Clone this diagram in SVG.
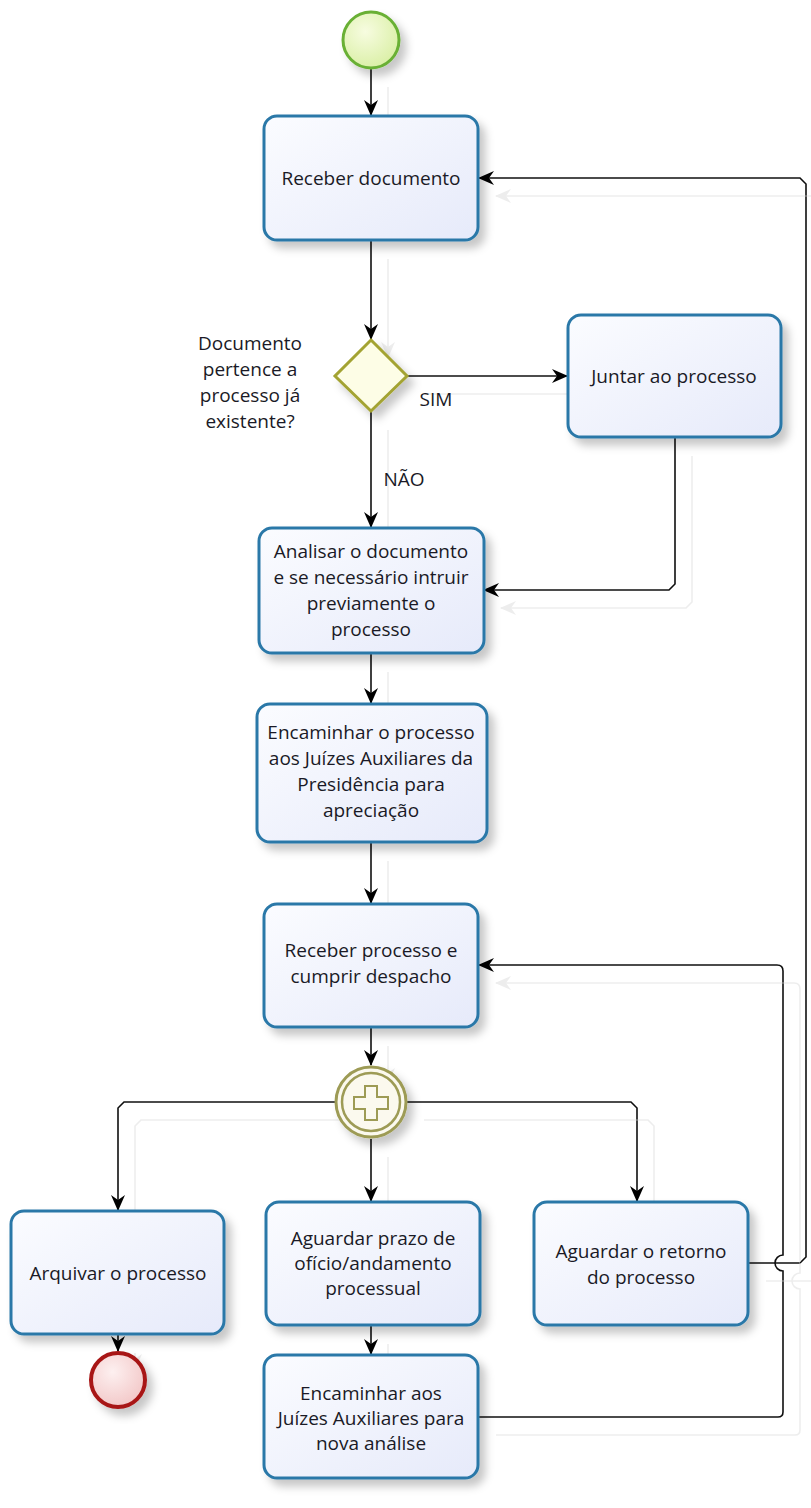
<svg xmlns="http://www.w3.org/2000/svg" width="811" height="1508" viewBox="0 0 811 1508">
<defs>
<linearGradient id="taskFill" x1="0" y1="0" x2="1" y2="1">
<stop offset="0" stop-color="#fbfcff"/>
<stop offset="1" stop-color="#e6eafa"/>
</linearGradient>
<radialGradient id="startFill" cx="0.4" cy="0.35" r="0.7">
<stop offset="0" stop-color="#f7fce0"/>
<stop offset="1" stop-color="#d9efa4"/>
</radialGradient>
<radialGradient id="endFill" cx="0.4" cy="0.35" r="0.7">
<stop offset="0" stop-color="#fdf0f0"/>
<stop offset="1" stop-color="#f2c6c6"/>
</radialGradient>
<filter id="shadow" x="-20%" y="-20%" width="150%" height="150%">
<feDropShadow dx="6" dy="7" stdDeviation="4" flood-color="#000" flood-opacity="0.22"/>
</filter>
<filter id="lineShadow" x="-10%" y="-10%" width="130%" height="130%">
<feOffset in="SourceAlpha" dx="17" dy="18" result="o"/>
<feFlood flood-color="#ededed"/>
<feComposite in2="o" operator="in" result="s"/>
<feMerge><feMergeNode in="s"/><feMergeNode in="SourceGraphic"/></feMerge>
</filter>
<marker id="arrow" viewBox="0 0 16 16" refX="15" refY="8" markerWidth="16" markerHeight="16" markerUnits="userSpaceOnUse" orient="auto">
<path d="M0,1 L16,8 L0,15 L5,8 z" fill="#000"/>
</marker>
</defs>
<style>
.task{fill:url(#taskFill);stroke:#2a78a8;stroke-width:3;filter:url(#shadow)}
.lbl{font-family:"Open Sans","Noto Sans",sans-serif;font-size:19px;fill:#1a1a26;text-anchor:middle}
.flow{fill:none;stroke:#111;stroke-width:1.6;marker-end:url(#arrow)}
</style>

<g id="connectors" filter="url(#lineShadow)">
<path class="flow" d="M371,69 V115"/>
<path class="flow" d="M371,241 V339"/>
<path class="flow" d="M408,376 H567"/>
<path class="flow" d="M371,412 V527"/>
<path class="flow" d="M675,438 V584 L669,590 H484"/>
<path class="flow" d="M371,654 V703"/>
<path class="flow" d="M371,843 V903"/>
<path class="flow" d="M371,1028 V1065"/>
<path class="flow" d="M335,1102 H124 L118,1108 V1210"/>
<path class="flow" d="M371,1139 V1201"/>
<path class="flow" d="M407,1102 H631 L637,1108 V1201"/>
<path class="flow" d="M118,1335 V1351"/>
<path class="flow" d="M371,1326 V1354"/>
<path class="flow" d="M479,1417 H778 Q783,1417 783,1412 V1271 A8,8 0 0 1 783,1255 V971 Q783,965 777,965 H479"/>
<path class="flow" d="M749,1263 H800 L806,1257 V184 L800,178 H479"/>
</g>

<g id="start">
<circle cx="371" cy="40" r="28" fill="url(#startFill)" stroke="#69b034" stroke-width="3" filter="url(#shadow)"/>
</g>

<g id="task-receber-documento">
<rect class="task" x="264" y="116" width="214" height="124" rx="13"/>
<text class="lbl" x="371" y="185">Receber documento</text>
</g>

<g id="gateway-documento">
<path d="M371,340 L407,376 L371,411 L335,376 Z" fill="#fdfde6" stroke="#a3a332" stroke-width="3" filter="url(#shadow)"/>
<text class="lbl" x="250" y="350">Documento</text>
<text class="lbl" x="250" y="376">pertence a</text>
<text class="lbl" x="250" y="402">processo já</text>
<text class="lbl" x="250" y="428">existente?</text>
</g>

<g id="label-sim">
<text class="lbl" x="436" y="406">SIM</text>
</g>
<g id="label-nao">
<text class="lbl" x="404" y="486">NÃO</text>
</g>

<g id="task-juntar">
<rect class="task" x="568" y="315" width="213" height="122" rx="13"/>
<text class="lbl" x="674" y="383">Juntar ao processo</text>
</g>

<g id="task-analisar">
<rect class="task" x="259" y="528" width="225" height="125" rx="13"/>
<text class="lbl" x="371" y="558">Analisar o documento</text>
<text class="lbl" x="371" y="584">e se necessário intruir</text>
<text class="lbl" x="371" y="610">previamente o</text>
<text class="lbl" x="371" y="636">processo</text>
</g>

<g id="task-encaminhar-juizes">
<rect class="task" x="257" y="704" width="230" height="138" rx="13"/>
<text class="lbl" x="371" y="739">Encaminhar o processo</text>
<text class="lbl" x="371" y="765">aos Juízes Auxiliares da</text>
<text class="lbl" x="371" y="791">Presidência para</text>
<text class="lbl" x="371" y="817">apreciação</text>
</g>

<g id="task-receber-processo">
<rect class="task" x="264" y="904" width="214" height="123" rx="13"/>
<text class="lbl" x="371" y="957">Receber processo e</text>
<text class="lbl" x="371" y="983">cumprir despacho</text>
</g>

<g id="gateway-paralelo">
<circle cx="371" cy="1102" r="35" fill="#fbf9ee" stroke="#9d9b55" stroke-width="3" filter="url(#shadow)"/>
<circle cx="371" cy="1102" r="29" fill="none" stroke="#9d9b55" stroke-width="2.5"/>
<path d="M365,1086 h12 v11 h11 v12 h-11 v11 h-12 v-11 h-11 v-12 h11 z" fill="none" stroke="#9d9b55" stroke-width="2"/>
</g>

<g id="task-arquivar">
<rect class="task" x="11" y="1211" width="213" height="123" rx="13"/>
<text class="lbl" x="118" y="1280">Arquivar o processo</text>
</g>

<g id="task-aguardar-prazo">
<rect class="task" x="266" y="1202" width="214" height="123" rx="13"/>
<text class="lbl" x="373" y="1245">Aguardar prazo de</text>
<text class="lbl" x="373" y="1270">ofício/andamento</text>
<text class="lbl" x="373" y="1295">processual</text>
</g>

<g id="task-aguardar-retorno">
<rect class="task" x="534" y="1202" width="214" height="123" rx="13"/>
<text class="lbl" x="641" y="1258">Aguardar o retorno</text>
<text class="lbl" x="641" y="1284">do processo</text>
</g>

<g id="end">
<circle cx="118" cy="1380" r="27" fill="url(#endFill)" stroke="#a81818" stroke-width="4" filter="url(#shadow)"/>
</g>

<g id="task-encaminhar-nova">
<rect class="task" x="264" y="1355" width="214" height="123" rx="13"/>
<text class="lbl" x="371" y="1400">Encaminhar aos</text>
<text class="lbl" x="371" y="1425">Juízes Auxiliares para</text>
<text class="lbl" x="371" y="1450">nova análise</text>
</g>
</svg>
